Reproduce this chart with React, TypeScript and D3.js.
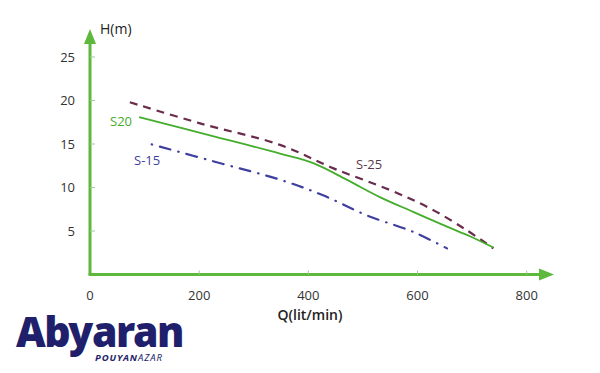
import React from "react";
import * as d3 from "d3";

const xTicks = [0, 200, 400, 600, 800];
const yTicks = [5, 10, 15, 20, 25];

const s25Q = [73, 200, 348, 446, 550, 623, 690, 739];
const s25H = [19.8, 17.4, 14.9, 12.2, 9.7, 7.6, 5.1, 3.0];

const s20Q = [90, 232, 348, 409, 470, 531, 592, 654, 696, 739];
const s20H = [18.1, 15.8, 13.9, 12.8, 10.9, 8.9, 7.2, 5.5, 4.4, 3.1];

const s15Q = [113, 244, 348, 427, 507, 592, 654];
const s15H = [14.95, 12.7, 10.9, 9.1, 6.8, 4.9, 3.0];

const W = 600, H = 373;
const x = d3.scaleLinear().domain([0, 800]).range([90, 526.7]);
const y = d3.scaleLinear().domain([0, 25]).range([274.5, 57]);

const line = d3
  .line<[number, number]>()
  .x((d) => x(d[0]))
  .y((d) => y(d[1]))
  .curve(d3.curveCatmullRom.alpha(0.5));

const zip = (a: number[], b: number[]) => a.map((v, i) => [v, b[i]] as [number, number]);

const AXIS = "#5db83c";
const FONT = "'Open Sans', 'Noto Sans', sans-serif";

export default function App() {
  const x0 = x(0);
  const y0 = y(0);
  return (
    <svg
      width={W}
      height={H}
      style={{ position: "absolute", left: 0, top: 0, background: "#fff" }}
    >
      {/* curves */}
      <path d={line(zip(s25Q, s25H)) || ""} fill="none" stroke="#6a2b4c" strokeWidth={2.2} strokeDasharray="8,6" />
      <path d={line(zip(s20Q, s20H)) || ""} fill="none" stroke="#45ad2c" strokeWidth={1.8} />
      <path d={line(zip(s15Q, s15H)) || ""} fill="none" stroke="#3e3f9e" strokeWidth={2.2} strokeDasharray="0.5,8,11,8" strokeLinecap="round" />

      {/* axes */}
      <line x1={x0} y1={y0} x2={x0} y2={44} stroke={AXIS} strokeWidth={3} />
      <polygon points={`${x0 - 6},44 ${x0 + 6},44 ${x0},29`} fill={AXIS} />
      <line x1={x0 - 1.5} y1={y0} x2={539} y2={y0} stroke={AXIS} strokeWidth={3} />
      <polygon points={`539,${y0 - 6} 539,${y0 + 6} 554,${y0}`} fill={AXIS} />

      {yTicks.map((t) => (
        <g key={"y" + t}>
          <line x1={x0} x2={x0 + 5} y1={y(t)} y2={y(t)} stroke="#9c9" strokeWidth={1} />
          <text x={75} y={y(t)} dy="0.35em" textAnchor="end" fontFamily={FONT} fontSize={13} fill="#333">
            {t}
          </text>
        </g>
      ))}
      {xTicks.map((t) => (
        <g key={"x" + t}>
          {t > 0 && <line x1={x(t)} x2={x(t)} y1={y0} y2={y0 - 4} stroke="#9c9" strokeWidth={1} />}
          <text x={x(t)} y={295} dy="0.35em" textAnchor="middle" fontFamily={FONT} fontSize={13} fill="#333">
            {t}
          </text>
        </g>
      ))}

      <text x={100} y={29} dy="0.35em" fontFamily={FONT} fontSize={14} fill="#222">H(m)</text>
      <text x={310} y={315} dy="0.35em" textAnchor="middle" fontFamily={FONT} fontSize={14} fontWeight={600} fill="#222">Q(lit/min)</text>

      <text x={110} y={121} dy="0.35em" fontFamily={FONT} fontSize={13} fill="#45ad2c">S20</text>
      <text x={134} y={160} dy="0.35em" fontFamily={FONT} fontSize={13} fill="#3e3f9e">S-15</text>
      <text x={356} y={164} dy="0.35em" fontFamily={FONT} fontSize={13} fill="#5a3a4a">S-25</text>

      {/* logo */}
      <text x={16} y={347} fontFamily="'Noto Sans', sans-serif" fontSize={42} fontWeight={900} fill="#1f1f6b" letterSpacing={-1.5} textLength={167} lengthAdjust="spacingAndGlyphs">Abyaran</text>
      <text x={95} y={361} fontFamily="'Noto Sans', sans-serif" fontSize={9.5} fontStyle="italic" fill="#1f1f6b" letterSpacing={0.9}>
        <tspan fontWeight={700}>POUYAN</tspan>
        <tspan>AZAR</tspan>
      </text>
    </svg>
  );
}
